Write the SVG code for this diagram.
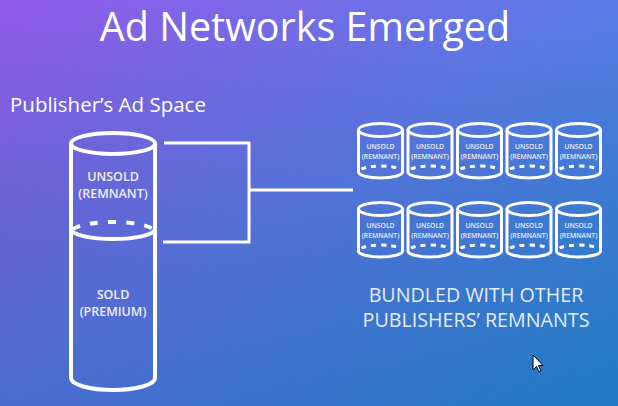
<svg xmlns="http://www.w3.org/2000/svg" width="618" height="406" viewBox="0 0 618 406">
<defs>
<linearGradient id="bg" x1="0" y1="0" x2="1" y2="1">
<stop offset="0" stop-color="#925ae9"/>
<stop offset="0.5" stop-color="#5a7ce8"/>
<stop offset="1" stop-color="#2590da"/>
</linearGradient>
<linearGradient id="shade" x1="0" y1="0" x2="0" y2="1">
<stop offset="0" stop-color="#000" stop-opacity="0"/>
<stop offset="1" stop-color="#102a70" stop-opacity="0.2"/>
</linearGradient>
<g id="small">
<path class="sc" d="M-22,0 A22,6.5 0 1,0 22,0 A22,6.5 0 1,0 -22,0 Z"/>
<path class="sc" d="M-22,0 V42 A22,6 0 0,0 22,42 V0"/>
<path class="sd" d="M-19,39 A22,6 0 0,1 19,39"/>
<text class="st" x="0" y="19">UNSOLD</text>
<text class="st" x="0" y="29">(REMNANT)</text>
</g>
</defs>
<style>
.t{font-family:"Open Sans","Noto Sans","Liberation Sans",sans-serif;fill:#ffffff}
.c{fill:none;stroke:#ffffff;stroke-width:4}
.sc{fill:none;stroke:#ffffff;stroke-width:3}
.sd{fill:none;stroke:#ffffff;stroke-width:3;stroke-dasharray:5,5}
.st{font-family:"Open Sans","Noto Sans","Liberation Sans",sans-serif;font-size:6.8px;font-weight:600;fill:#ffffff;text-anchor:middle;opacity:0.88}
.m{font-size:12.5px;font-weight:600;text-anchor:middle;opacity:0.9}
.conn{fill:none;stroke:#ffffff;stroke-width:3}
</style>
<rect width="618" height="406" fill="url(#bg)"/>
<rect width="618" height="406" fill="url(#shade)"/>
<text class="t" x="305" y="41" font-size="39.5" text-anchor="middle">Ad Networks Emerged</text>
<text class="t" x="10" y="112" font-size="20.5">Publisher’s Ad Space</text>

<g id="publisher-cylinder">
<ellipse class="c" cx="113" cy="143.5" rx="42" ry="10.5"/>
<path class="c" d="M71,143.5 V378 A42,12 0 0,0 155,378 V143.5"/>
<path class="c" d="M73,229 A42,10 0 0,1 153,229" stroke-dasharray="8,10"/>
<path class="c" d="M71,229 A42,10 0 0,0 155,229"/>
<text class="t m" x="113" y="181">UNSOLD</text>
<text class="t m" x="113" y="198">(REMNANT)</text>
<text class="t m" x="113" y="299">SOLD</text>
<text class="t m" x="113" y="316">(PREMIUM)</text>
</g>

<g id="connectors">
<path class="conn" d="M164,143 H249 V242 H163"/>
<path class="conn" d="M249,190 H353"/>
</g>

<g id="bundle">
<use href="#small" x="380.5" y="130"/>
<use href="#small" x="430" y="130"/>
<use href="#small" x="479.5" y="130"/>
<use href="#small" x="529" y="130"/>
<use href="#small" x="578.5" y="130"/>
<use href="#small" x="380.5" y="209"/>
<use href="#small" x="430" y="209"/>
<use href="#small" x="479.5" y="209"/>
<use href="#small" x="529" y="209"/>
<use href="#small" x="578.5" y="209"/>
</g>

<g id="bundle-label">
<text class="t" x="476" y="302" font-size="19.7" text-anchor="middle" fill-opacity="0.88">BUNDLED WITH OTHER</text>
<text class="t" x="476" y="327" font-size="19.7" text-anchor="middle" fill-opacity="0.88">PUBLISHERS’ REMNANTS</text>
</g>

<path d="M533,355 V370 L536.5,366.5 L539,372 L541,371 L538.5,365.5 L543,365.5 Z" fill="#ffffff" stroke="#000000" stroke-width="1"/>
</svg>
